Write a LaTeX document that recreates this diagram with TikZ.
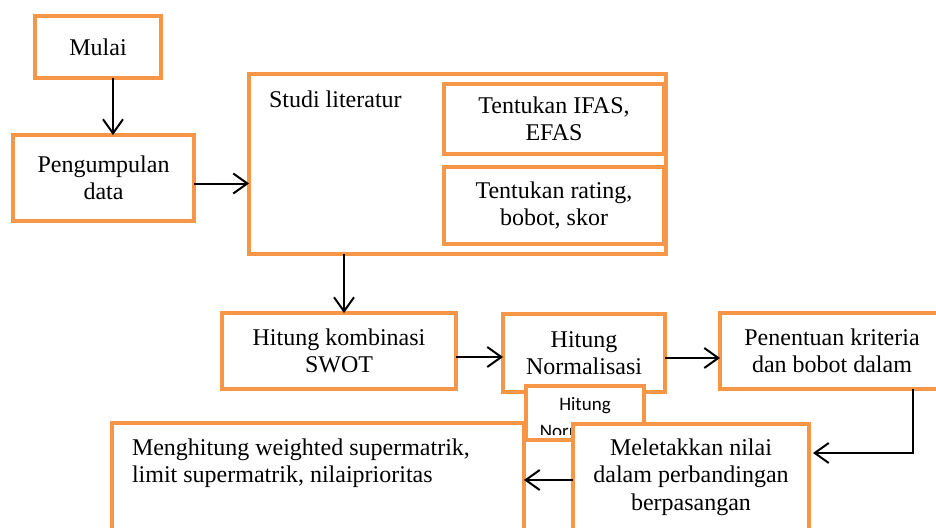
\documentclass[tikz,border=0pt]{standalone}
\usepackage{fontspec}
\setmainfont{Liberation Serif}
\newfontfamily\smallsansfam{Carlito}
\usetikzlibrary{arrows.meta}
\definecolor{boxor}{RGB}{247,150,70}
\newcommand\mainfs{\fontsize{24}{27.5}\selectfont}
\begin{document}
\begin{tikzpicture}[x=1pt,y=-1pt,
  box/.style={draw=boxor, line width=4pt, fill=white, inner sep=0pt, outer sep=0pt, align=center, font=\mainfs},
  txt/.style={inner sep=0pt, outer sep=0pt, font=\mainfs},
  arr/.style={-{Straight Barb[length=14pt,width=20pt,line width=2pt]}, line width=2pt, black}]
\useasboundingbox (0,0) rectangle (936,527);
\clip (0,0) rectangle (936,527);
\fill[white] (0,0) rectangle (936,527);
% boxes
\node[box, minimum width=126pt, minimum height=62pt] (mulai) at (98,47) {Mulai};
\node[box, minimum width=181pt, minimum height=86pt] (peng) at (103.5,178) {Pengumpulan\\data};
\node[box, minimum width=417pt, minimum height=180pt] (studi) at (457.5,164) {};
\node[txt, anchor=base west] (studilabel) at (269,107) {Studi literatur};
\node[box, minimum width=220pt, minimum height=70pt] (ifas) at (554,119) {Tentukan IFAS,\\EFAS};
\node[box, minimum width=220pt, minimum height=77pt] (rating) at (554,205.5) {Tentukan rating,\\bobot, skor};
\node[box, minimum width=234pt, minimum height=76pt] (komb) at (339,351) {Hitung kombinasi\\SWOT};
\node[box, minimum width=162pt, minimum height=78pt] (norm) at (584,353) {Hitung\\Normalisasi};
\node[box, minimum width=224pt, minimum height=76pt] (pen) at (832,351) {Penentuan kriteria\\dan bobot dalam};
\node[box, minimum width=118pt, minimum height=54pt] (small) at (585,413) {};
\begin{scope}
  \clip (527,387) rectangle (643,434);
  \node[inner sep=0pt, anchor=north, align=center, font=\smallsansfam\fontsize{19}{27}\selectfont] (smalltxt) at (585,397.5) {Hitung\\Normalisasi};
\end{scope}
\node[box, minimum width=412pt, minimum height=177pt] (meng) at (318,511.5) {};
\node[txt, anchor=north west, align=left] (mengtxt) at (132,438.5) {Menghitung weighted supermatrik,\\limit supermatrik, nilaiprioritas};
\node[box, minimum width=236pt, minimum height=176pt, anchor=north] (mel) at (691,424) {};
\node[txt, anchor=north, align=center] (meltxt) at (691,438.5) {Meletakkan nilai\\dalam perbandingan\\berpasangan};
% connectors
\draw[arr] ([xshift=15pt]mulai.south) -- ([xshift=15pt]mulai.south |- peng.north);
\draw[arr] ([yshift=-5.5pt]peng.east) -- ([yshift=-5.5pt]peng.east -| studi.west);
\draw[arr] ([xshift=5pt]komb.north |- studi.south) -- ([xshift=5pt]komb.north);
\draw[arr] ([yshift=-6pt]komb.east) -- ([yshift=-6pt]komb.east -| norm.west);
\draw[arr] ([yshift=-5pt]norm.east) -- ([yshift=-5pt]norm.east -| pen.west);
\coordinate (turn) at (913,453);
\draw[arr] (turn |- pen.south) -- (turn) -- ([xshift=4pt]turn -| mel.east);
\coordinate (midy) at (550,480);
\draw[arr] (midy -| mel.west) -- (midy -| meng.east);
\end{tikzpicture}
\end{document}
